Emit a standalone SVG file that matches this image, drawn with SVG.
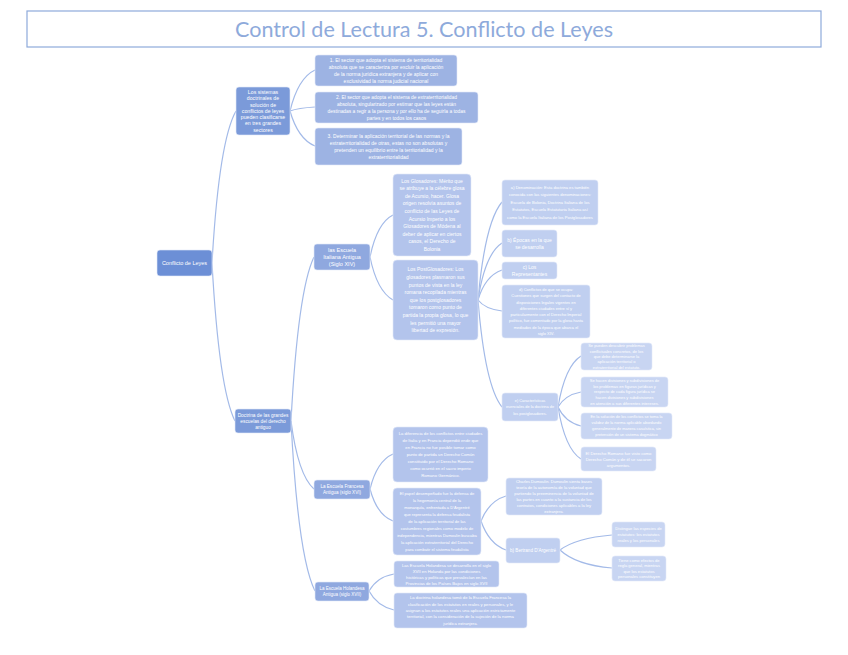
<svg xmlns="http://www.w3.org/2000/svg" width="848" height="655" viewBox="0 0 848 655">
<style>
text{font-family:"Liberation Sans",Arial,sans-serif;fill:#ffffff;text-anchor:middle}
.box{stroke:#e3eaf8;stroke-width:0.6}
.c0{fill:#6c8fd6}.c1{fill:#7b9ad9}.c2{fill:#8fa8df}.c2b{fill:#9db3e3}.c3{fill:#b3c4ec}.c4{fill:#c0cff0}.c5{fill:#c8d5f2}
#connectors path{fill:none;stroke:#a3baE8;stroke-width:1.2}
</style>
<rect width="848" height="655" fill="#ffffff"/>
<g id="title">
<rect x="27" y="11" width="794" height="36" fill="#ffffff" stroke="#8eaadb" stroke-width="1.2"/>
<text x="424" y="37" style="font-family:Lato,'Liberation Sans',sans-serif;font-size:22px;fill:#8eaadb" textLength="378" lengthAdjust="spacingAndGlyphs">Control de Lectura 5. Conflicto de Leyes</text>
</g>
<g id="connectors">
<path d="M212,263 Q219,141 236,111"/>
<path d="M212,263 Q219,389 235,421"/>
<path d="M290,111 Q298,78 315,70"/>
<path d="M290,111 Q298,108 315,107"/>
<path d="M290,111 Q298,139 315,146"/>
<path d="M291,421 Q298,290 314,257"/>
<path d="M291,421 Q298,475 314,489"/>
<path d="M291,421 Q298,557 315,591"/>
<path d="M370,257 Q377,223 393,215"/>
<path d="M370,257 Q377,291 393,300"/>
<path d="M478,300 Q485,222 502,202"/>
<path d="M478,300 Q485,254 502,243"/>
<path d="M478,300 Q485,276 502,270"/>
<path d="M478,300 Q485,309 502,311"/>
<path d="M478,300 Q485,386 502,407"/>
<path d="M558,407 Q565,366 581,356"/>
<path d="M558,407 Q565,395 581,392"/>
<path d="M558,407 Q565,422 581,426"/>
<path d="M558,407 Q565,449 581,459"/>
<path d="M370,489 Q377,461 393,454"/>
<path d="M370,489 Q377,515 393,521"/>
<path d="M481,521 Q489,501 506,496"/>
<path d="M481,521 Q489,544 506,550"/>
<path d="M560,550 Q576,538 612,535"/>
<path d="M560,550 Q576,565 612,568"/>
<path d="M369,591 Q377,577 394,574"/>
<path d="M369,591 Q377,606 394,610"/>
</g>
<g id="root">
<rect class="box c0" x="157" y="250" width="55" height="26" rx="3"/>
<text x="184.5" y="265" font-size="5.5">Conflicto de Leyes</text>
</g>
<g id="sistemas">
<rect class="box c1" x="236" y="87" width="54" height="48" rx="3"/>
<text font-size="5.2"><tspan x="263" y="93.9">Los sistemas</tspan><tspan x="263" y="100.2">doctrinales de</tspan><tspan x="263" y="106.5">solución de</tspan><tspan x="263" y="112.8">conflictos de leyes</tspan><tspan x="263" y="119.1">pueden clasificarse</tspan><tspan x="263" y="125.4">en tres grandes</tspan><tspan x="263" y="131.7">sectores</tspan></text>
</g>
<g id="sector1">
<rect class="box c2b" x="315" y="55" width="142" height="31" rx="3"/>
<text font-size="5"><tspan x="386" y="61.8">1. El sector que adopta el sistema de territorialidad</tspan><tspan x="386" y="68.8">absoluta que se caracteriza por excluir la aplicación</tspan><tspan x="386" y="75.8">de la norma jurídica extranjera y de aplicar con</tspan><tspan x="386" y="82.8">exclusividad la norma judicial nacional</tspan></text>
</g>
<g id="sector2">
<rect class="box c2b" x="315" y="92" width="163" height="31" rx="3"/>
<text font-size="4.9"><tspan x="396.5" y="98.8">2. El sector que adopta el sistema de extraterritorialidad</tspan><tspan x="396.5" y="105.8">absoluta, singularizado por estimar que las leyes están</tspan><tspan x="396.5" y="112.8">destinadas a regir a la persona y por ello ha de seguirla a todas</tspan><tspan x="396.5" y="119.8">partes y en todos los casos</tspan></text>
</g>
<g id="sector3">
<rect class="box c2b" x="315" y="128" width="147" height="37" rx="3"/>
<text font-size="5"><tspan x="388.5" y="137.8">3. Determinar la aplicación territorial de las normas y la</tspan><tspan x="388.5" y="144.8">extraterritorialidad de otras, estas no son absolutas y</tspan><tspan x="388.5" y="151.8">pretenden un equilibrio entre la territorialidad y la</tspan><tspan x="388.5" y="158.8">extraterritorialidad</tspan></text>
</g>
<g id="doctrina">
<rect class="box c1" x="235" y="409" width="56" height="24" rx="3"/>
<text font-size="4.8"><tspan x="263" y="416.7">Doctrina de las grandes</tspan><tspan x="263" y="422.7">escuelas del derecho</tspan><tspan x="263" y="428.7">antiguo</tspan></text>
</g>
<g id="italiana">
<rect class="box c2" x="314" y="244" width="56" height="26" rx="3"/>
<text font-size="5.5"><tspan x="342" y="251.9">las Escuela</tspan><tspan x="342" y="258.9">Italiana Antigua</tspan><tspan x="342" y="265.9">(Siglo XIV)</tspan></text>
</g>
<g id="glosadores">
<rect class="box c3" x="393" y="174" width="78" height="82" rx="4"/>
<text font-size="5"><tspan x="432" y="182.6">Los Glosadores: Mérito que</tspan><tspan x="432" y="190.2">se atribuye a la célebre glosa</tspan><tspan x="432" y="197.8">de Acursio, hacer. Glosa</tspan><tspan x="432" y="205.4">origen resolvía asuntos de</tspan><tspan x="432" y="213">conflicto de las Leyes de</tspan><tspan x="432" y="220.6">Acursio Imperio a los</tspan><tspan x="432" y="228.2">Glosadores de Módena al</tspan><tspan x="432" y="235.8">deber de aplicar en ciertos</tspan><tspan x="432" y="243.4">casos, el Derecho de</tspan><tspan x="432" y="251">Bolonia</tspan></text>
</g>
<g id="postglosadores">
<rect class="box c3" x="393" y="260" width="85" height="80" rx="4"/>
<text font-size="5"><tspan x="435.5" y="271.4">Los PostGlosadores: Los</tspan><tspan x="435.5" y="279">glosadores plasmaron sus</tspan><tspan x="435.5" y="286.6">puntos de vista en la ley</tspan><tspan x="435.5" y="294.2">romana recopilada mientras</tspan><tspan x="435.5" y="301.8">que los postglosadores</tspan><tspan x="435.5" y="309.4">tomaron como punto de</tspan><tspan x="435.5" y="317">partida la propia glosa, lo que</tspan><tspan x="435.5" y="324.6">les permitió una mayor</tspan><tspan x="435.5" y="332.2">libertad de expresión.</tspan></text>
</g>
<g id="denominacion">
<rect class="box c4" x="502" y="180" width="96" height="45" rx="3"/>
<text font-size="4.1"><tspan x="550" y="188.9">a) Denominación: Esta doctrina es también</tspan><tspan x="550" y="196.4">conocida con las siguientes denominaciones:</tspan><tspan x="550" y="203.9">Escuela de Bolonia, Doctrina Italiana de los</tspan><tspan x="550" y="211.4">Estatutos, Escuela Estatutaria Italiana así</tspan><tspan x="550" y="218.9">como la Escuela Italiana de los Postglosadores</tspan></text>
</g>
<g id="epocas">
<rect class="box c4" x="502" y="230" width="55" height="27" rx="3"/>
<text font-size="5"><tspan x="529.5" y="241.8">b) Épocas en la que</tspan><tspan x="529.5" y="248.8">se desarrolla</tspan></text>
</g>
<g id="representantes">
<rect class="box c4" x="502" y="262" width="55" height="17" rx="3"/>
<text font-size="5"><tspan x="529.5" y="269">c) Los</tspan><tspan x="529.5" y="275.5">Representantes</tspan></text>
</g>
<g id="conflictos">
<rect class="box c4" x="502" y="285" width="88" height="53" rx="3"/>
<text font-size="4"><tspan x="546" y="290.9">d) Conflictos de que se ocupa:</tspan><tspan x="546" y="297.2">Cuestiones que surgen del contacto de</tspan><tspan x="546" y="303.5">disposiciones legales vigentes en</tspan><tspan x="546" y="309.8">diferentes ciudades entre sí y</tspan><tspan x="546" y="316.1">particularmente con el Derecho Imperial</tspan><tspan x="546" y="322.4">político, fue comentado por la glosa hasta</tspan><tspan x="546" y="328.7">mediados de la época que abarca el</tspan><tspan x="546" y="335">siglo XIV.</tspan></text>
</g>
<g id="caracteristicas">
<rect class="box c4" x="502" y="393" width="56" height="28" rx="3"/>
<text font-size="3.9"><tspan x="530" y="401.9">e) Características</tspan><tspan x="530" y="408.4">esenciales de la doctrina de</tspan><tspan x="530" y="414.9">los postglosadores.</tspan></text>
</g>
<g id="car1">
<rect class="box c5" x="581" y="343" width="71" height="27" rx="3"/>
<text font-size="4"><tspan x="616.5" y="347.3">Se pueden descubrir problemas</tspan><tspan x="616.5" y="352.6">conflictuales concretos, de los</tspan><tspan x="616.5" y="357.9">que debe determinarse la</tspan><tspan x="616.5" y="363.2">aplicación territorial o</tspan><tspan x="616.5" y="368.5">extraterritorial del estatuto.</tspan></text>
</g>
<g id="car2">
<rect class="box c5" x="581" y="377" width="87" height="30" rx="3"/>
<text font-size="4"><tspan x="624.5" y="382.2">Se hacen divisiones y subdivisiones de</tspan><tspan x="624.5" y="387.8">los problemas en figuras jurídicas y</tspan><tspan x="624.5" y="393.4">respecto de cada figura jurídica se</tspan><tspan x="624.5" y="399">hacen divisiones y subdivisiones</tspan><tspan x="624.5" y="404.6">en atención a sus diferentes intereses.</tspan></text>
</g>
<g id="car3">
<rect class="box c5" x="581" y="413" width="91" height="26" rx="3"/>
<text font-size="3.9"><tspan x="626.5" y="418.4">En la solución de los conflictos se toma la</tspan><tspan x="626.5" y="424.4">validez de la norma aplicable abordando</tspan><tspan x="626.5" y="430.4">generalmente de manera casuística, sin</tspan><tspan x="626.5" y="436.4">pretensión de un sistema dogmático</tspan></text>
</g>
<g id="car4">
<rect class="box c5" x="581" y="447" width="75" height="24" rx="3"/>
<text font-size="4.2"><tspan x="618.5" y="454.5">El Derecho Romano fue visto como</tspan><tspan x="618.5" y="460.5">Derecho Común y de él se sacaron</tspan><tspan x="618.5" y="466.5">argumentos.</tspan></text>
</g>
<g id="francesa">
<rect class="box c2" x="314" y="480" width="56" height="19" rx="3"/>
<text font-size="4.6"><tspan x="342" y="487.9">La Escuela Francesa</tspan><tspan x="342" y="494.4">Antigua (siglo XVI)</tspan></text>
</g>
<g id="diferencia">
<rect class="box c3" x="393" y="427" width="95" height="55" rx="4"/>
<text font-size="4.2"><tspan x="440.5" y="435">La diferencia de los conflictos entre ciudades</tspan><tspan x="440.5" y="442">de Italia y en Francia dependió ende que</tspan><tspan x="440.5" y="449">en Francia no fue posible tomar como</tspan><tspan x="440.5" y="456">punto de partida un Derecho Común</tspan><tspan x="440.5" y="463">constituido por el Derecho Romano</tspan><tspan x="440.5" y="470">como ocurrió en el sacro imperio</tspan><tspan x="440.5" y="477">Romano Germánico.</tspan></text>
</g>
<g id="papel">
<rect class="box c3" x="393" y="488" width="88" height="67" rx="4"/>
<text font-size="4.1"><tspan x="437" y="495">El papel desempeñado fue la defensa de</tspan><tspan x="437" y="502">la hegemonía central de la</tspan><tspan x="437" y="509">monarquía, enfrentada a D'Argentré</tspan><tspan x="437" y="516">que representa la defensa feudalista</tspan><tspan x="437" y="523">de la aplicación territorial de las</tspan><tspan x="437" y="530">costumbres regionales como modelo de</tspan><tspan x="437" y="537">independencia, mientras Dumoulin buscaba</tspan><tspan x="437" y="544">la aplicación extraterritorial del Derecho</tspan><tspan x="437" y="551">para combatir el sistema feudalista</tspan></text>
</g>
<g id="dumoulin">
<rect class="box c4" x="506" y="478" width="96" height="37" rx="3"/>
<text font-size="4.1"><tspan x="554" y="483.2">Charles Dumoulin. Dumoulin sienta bases</tspan><tspan x="554" y="489.1">teoría de la autonomía de la voluntad que</tspan><tspan x="554" y="495">partiendo la preeminencia de la voluntad de</tspan><tspan x="554" y="500.9">las partes en cuanto a la sustancia de los</tspan><tspan x="554" y="506.8">contratos, condiciones aplicables a la ley</tspan><tspan x="554" y="512.7">extranjera.</tspan></text>
</g>
<g id="dargentre">
<rect class="box c4" x="506" y="538" width="54" height="25" rx="3"/>
<text x="533" y="551.6" font-size="4.6">b) Bertrand D'Argentré</text>
</g>
<g id="distingue">
<rect class="box c5" x="612" y="522" width="53" height="25" rx="3"/>
<text font-size="4.1"><tspan x="638.5" y="530">Distingue las especies de</tspan><tspan x="638.5" y="536">estatutos: los estatutos</tspan><tspan x="638.5" y="542">reales y los personales</tspan></text>
</g>
<g id="efectos">
<rect class="box c5" x="612" y="556" width="54" height="25" rx="3"/>
<text font-size="4.1"><tspan x="639" y="561.7">Tiene como efectos de</tspan><tspan x="639" y="567.2">regla general, mientras</tspan><tspan x="639" y="572.7">que los estatutos</tspan><tspan x="639" y="578.2">personales constituyen</tspan></text>
</g>
<g id="holandesa">
<rect class="box c2" x="315" y="582" width="54" height="19" rx="3"/>
<text font-size="4.5"><tspan x="342" y="589.8">La Escuela Holandesa</tspan><tspan x="342" y="596.3">Antigua (siglo XVII)</tspan></text>
</g>
<g id="holandesa1">
<rect class="box c3" x="394" y="561" width="105" height="26" rx="3"/>
<text font-size="4.2"><tspan x="446.5" y="566.5">Las Escuela Holandesa se desarrolla en el siglo</tspan><tspan x="446.5" y="572.5">XVII en Holanda por las condiciones</tspan><tspan x="446.5" y="578.5">históricas y políticas que prevalecían en las</tspan><tspan x="446.5" y="584.5">Provincias de los Países Bajos en siglo XVII</tspan></text>
</g>
<g id="holandesa2">
<rect class="box c3" x="394" y="593" width="133" height="35" rx="3"/>
<text font-size="4.2"><tspan x="460.5" y="599.4">La doctrina holandesa tomó de la Escuela Francesa la</tspan><tspan x="460.5" y="605.7">clasificación de los estatutos en reales y personales, y le</tspan><tspan x="460.5" y="612">asignan a los estatutos reales una aplicación estrictamente</tspan><tspan x="460.5" y="618.3">territorial, con la consideración de la sujeción de la norma</tspan><tspan x="460.5" y="624.6">jurídica extranjera.</tspan></text>
</g>
</svg>
